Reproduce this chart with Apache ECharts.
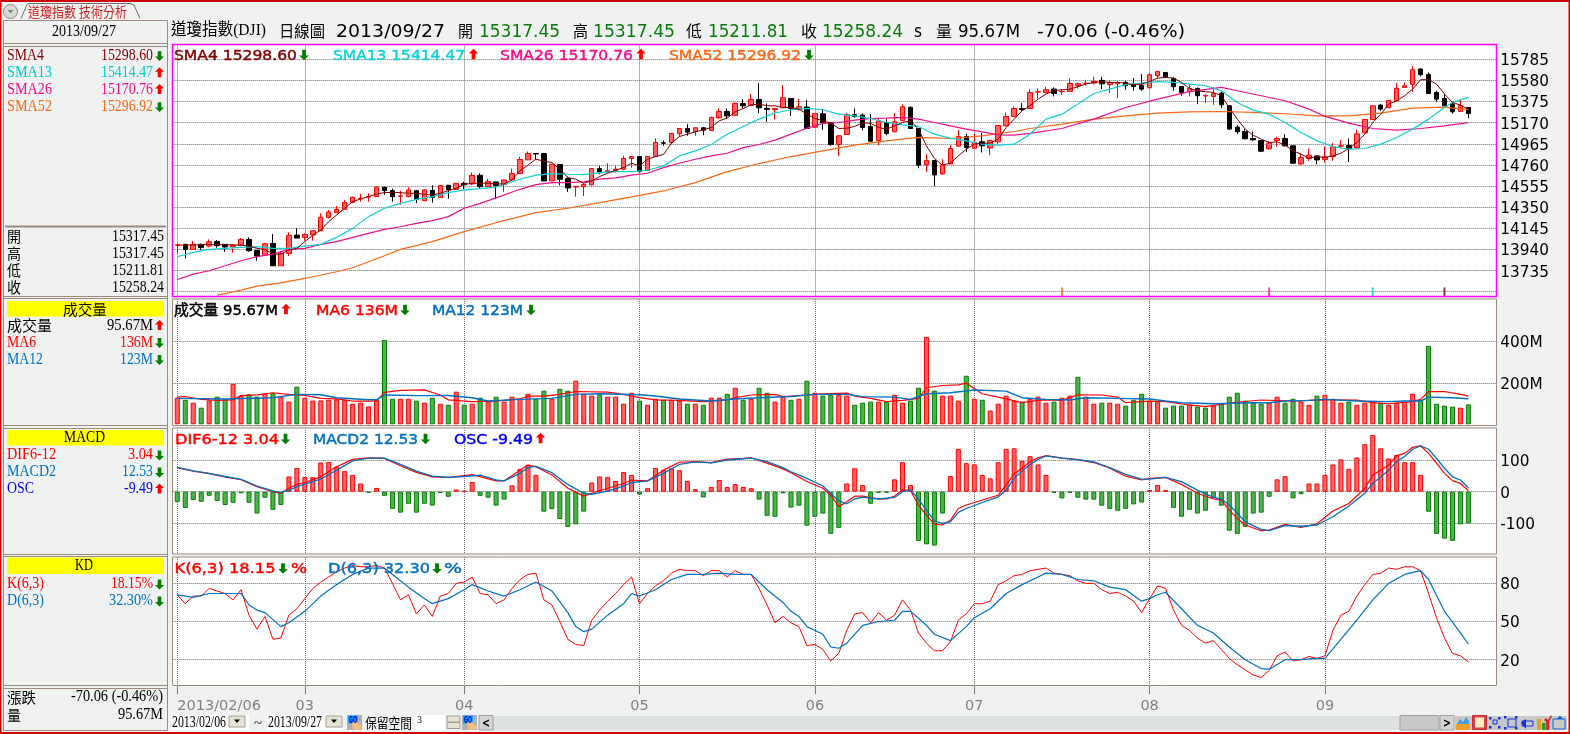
<!DOCTYPE html>
<html><head><meta charset="utf-8">
<style>html,body{margin:0;padding:0;background:#f0f2f2;overflow:hidden}#c{width:1570px;height:734px}</style>
<script src="https://cdn.jsdelivr.net/npm/echarts@6/dist/echarts.min.js"></script>
</head><body><div id="c"></div>
<script>
// ---------- tick labels ----------
const tickIndex=[0,16,36,58,80,100,122,144];
const tickLabels=['2013/02/06','03','04','05','06','07','08','09'];
const priceTicks=[13530,13735,13940,14145,14350,14555,14760,14965,15170,15375,15580,15785];
const priceLabels=[13735,13940,14145,14350,14555,14760,14965,15170,15375,15580,15785];
const volTicks=[200,400];
const macdTicks=[-100,0,100];
const kdTicks=[20,50,80];
const reservedBars=3;
// ---------- candles: open, close, low, high ----------
const candles=[
[13980,13984,13901,13998],[13989,13940,13853,13989],[13940,13989,13934,14021],[13989,13959,13934,13995],[13972,14014,13959,14037],[14018,13976,13956,14031],[13989,13963,13917,13992],[13963,13982,13908,13989],[13979,14037,13972,14050],[14037,13927,13917,14057],
[13930,13875,13830,13930],[13885,13995,13875,14005],[13998,13781,13781,14089],[13781,13901,13781,13917],[13901,14076,13875,14105],[14079,14050,14050,14144],[14057,14086,14024,14095],[14079,14121,14024,14128],[14121,14251,14121,14290],[14251,14303,14241,14322],
[14296,14329,14296,14361],[14329,14394,14329,14420],[14397,14445,14387,14452],[14432,14436,14403,14478],[14449,14452,14403,14484],[14452,14543,14452,14549],[14543,14510,14471,14549],[14510,14452,14403,14530],[14455,14458,14374,14510],[14452,14517,14445,14543],
[14510,14426,14387,14517],[14413,14517,14407,14523],[14513,14445,14394,14562],[14445,14559,14440,14565],[14562,14517,14432,14565],[14523,14581,14520,14585],[14581,14568,14523,14598],[14575,14659,14565,14688],[14659,14549,14530,14679],[14549,14598,14543,14624],
[14594,14559,14432,14598],[14569,14614,14498,14617],[14614,14676,14608,14724],[14676,14812,14669,14838],[14809,14870,14809,14890],[14870,14866,14809,14870],[14870,14604,14604,14870],[14604,14766,14604,14770],[14763,14621,14562,14766],[14627,14536,14498,14646],
[14546,14552,14452,14555],[14549,14569,14458,14582],[14566,14724,14560,14730],[14724,14685,14669,14750],[14692,14702,14685,14776],[14705,14718,14685,14750],[14718,14822,14708,14848],[14822,14841,14734,14845],[14841,14695,14685,14845],[14705,14841,14700,14845],
[14841,14977,14835,15019],[14974,14970,14945,14997],[14977,15065,14960,15068],[15062,15113,15035,15117],[15113,15078,15042,15155],[15084,15120,15042,15123],[15120,15097,15048,15127],[15094,15220,15090,15230],[15217,15278,15205,15308],[15278,15236,15204,15308],
[15240,15356,15236,15366],[15356,15333,15308,15398],[15337,15395,15330,15447],[15395,15314,15262,15553],[15308,15298,15178,15356],[15295,15308,15200,15308],[15314,15411,15310,15534],[15405,15308,15236,15405],[15298,15324,15285,15401],[15321,15113,15110,15392],
[15126,15256,15120,15262],[15256,15172,15100,15301],[15170,14958,14945,15172],[14958,15042,14848,15048],[15055,15246,15050,15262],[15246,15230,15217,15307],[15243,15123,15094,15259],[15133,14990,14984,15252],[14996,15184,14951,15214],[15171,15065,15048,15204],
[15081,15178,15078,15262],[15188,15324,15185,15347],[15318,15113,15110,15328],[15113,14757,14728,15116],[14760,14802,14692,14864],[14802,14663,14555,14802],[14672,14760,14665,14815],[14770,14919,14766,14951],[14942,15035,14938,15100],[15035,14929,14886,15061],
[14922,14977,14918,15061],[14984,14945,14880,15068],[14925,14996,14854,15000],[14984,15142,14961,15146],[15139,15230,15135,15269],[15230,15307,15226,15327],[15307,15298,15282,15359],[15307,15463,15305,15495],[15466,15470,15405,15502],[15463,15489,15455,15518],
[15495,15453,15424,15512],[15470,15473,15440,15495],[15473,15550,15470,15599],[15528,15547,15502,15560],[15550,15553,15528,15586],[15554,15570,15541,15615],[15580,15547,15495,15615],[15538,15560,15457,15576],[15547,15560,15408,15570],[15560,15528,15489,15576],
[15541,15521,15479,15602],[15534,15495,15479,15641],[15508,15635,15505,15650],[15625,15667,15599,15670],[15657,15612,15600,15660],[15599,15518,15479,15609],[15521,15463,15431,15525],[15473,15502,15424,15544],[15502,15431,15350,15512],[15428,15434,15360,15447],
[15424,15450,15343,15512],[15456,15343,15311,15470],[15333,15107,15100,15340],[15126,15081,15058,15146],[15084,15013,15010,15107],[15016,15003,14993,15084],[14996,14893,14886,15000],[14916,14971,14906,14993],[14996,15016,14938,15032],[15016,14945,14942,15058],
[14945,14776,14770,14948],[14770,14831,14757,14873],[14821,14854,14799,14919],[14847,14808,14766,14850],[14812,14838,14783,14938],[14841,14935,14799,14971],[14942,14945,14919,15000],[14948,14919,14789,15016],[14925,15061,14922,15100],[15071,15201,15065,15205],
[15201,15333,15198,15337],[15340,15301,15285,15350],[15314,15385,15310,15390],[15382,15502,15380,15554],[15512,15528,15508,15560],[15541,15683,15470,15716],[15690,15635,15619,15700],[15638,15453,15450,15657],[15463,15398,15372,15479],[15405,15333,15330,15447],
[15350,15275,15256,15372],[15279,15337,15272,15392],[15317.45,15258.24,15211.81,15317.45]];
// ---------- moving averages: [bar, value] ----------
const sma4=[[0,13982],[2,13982],[4,13989],[6,13985],[8,13982],[9,13972],[10,13950],[11,13940],[12,13895],[13,13895],[14,13934],[15,13950],[16,14015],[17,14079],[18,14128],[19,14209],[20,14274],[21,14339],[22,14403],[23,14429],[24,14452],[25,14478],[26,14491],[27,14494],[28,14491],[29,14484],[30,14484],[31,14475],[32,14468],[33,14484],[34,14510],[35,14533],[36,14572],[37,14582],[38,14582],[39,14582],[40,14575],[41,14575],[42,14614],[43,14702],[44,14757],[45,14815],[46,14796],[47,14783],[48,14718],[49,14637],[50,14621],[51,14582],[52,14604],[53,14647],[54,14679],[55,14708],[56,14734],[57,14776],[58,14750],[59,14815],[60,14841],[61,14860],[62,14971],[63,15035],[64,15058],[65,15081],[66,15100],[67,15123],[68,15188],[69,15214],[70,15275],[71,15307],[72,15343],[73,15350],[74,15333],[75,15333],[76,15317],[77,15317],[78,15301],[79,15252],[80,15210],[81,15188],[82,15165],[83,15113],[84,15116],[85,15133],[86,15171],[87,15162],[88,15123],[89,15107],[90,15139],[91,15171],[92,15188],[93,15107],[94,14945],[95,14822],[96,14757],[97,14776],[98,14847],[99,14912],[100,14961],[101,14971],[102,14971],[103,15009],[104,15123],[105,15204],[106,15285],[107,15333],[108,15398],[109,15447],[110,15479],[111,15489],[112,15495],[113,15518],[114,15544],[115,15560],[116,15567],[117,15560],[118,15560],[119,15551],[120,15538],[121,15544],[122,15570],[123,15602],[124,15609],[125,15602],[126,15560],[127,15502],[128,15479],[129,15470],[130,15463],[131,15431],[132,15317],[133,15204],[134,15107],[135,15048],[136,15009],[137,14977],[138,14984],[139,14951],[140,14896],[141,14864],[142,14825],[143,14841],[144,14831],[145,14847],[146,14873],[147,14919],[148,14977],[149,15058],[150,15171],[151,15252],[152,15350],[153,15382],[154,15431],[155,15495],[156,15586],[157,15586],[158,15544],[159,15447],[160,15366],[161,15340],[162,15298.6]];
const sma13=[[0,13869],[2,13911],[4,13940],[6,13950],[8,13959],[10,13966],[12,13950],[14,13950],[16,13972],[18,13989],[20,14057],[22,14144],[24,14258],[26,14339],[28,14387],[30,14426],[32,14452],[34,14491],[36,14517],[38,14530],[40,14545],[43,14621],[45,14660],[47,14676],[49,14669],[51,14666],[53,14685],[55,14695],[57,14695],[59,14708],[61,14750],[63,14847],[65,14896],[67,14958],[69,15058],[71,15133],[73,15204],[75,15262],[77,15295],[79,15308],[81,15295],[83,15252],[85,15236],[87,15210],[89,15171],[91,15149],[93,15133],[95,15058],[97,15019],[99,14993],[101,14961],[103,14951],[105,14961],[107,15058],[109,15204],[111,15252],[113,15350],[115,15453],[117,15495],[119,15538],[121,15554],[123,15567],[125,15560],[127,15544],[129,15528],[131,15479],[133,15366],[135,15291],[137,15252],[139,15171],[141,15074],[143,14993],[145,14938],[147,14912],[149,14919],[151,14961],[153,15026],[155,15107],[157,15204],[159,15317],[160,15366],[162,15414.47]];
const sma26=[[0,13648],[2,13700],[4,13733],[6,13781],[8,13830],[10,13869],[12,13895],[14,13940],[16,13950],[18,13989],[20,14015],[22,14057],[24,14096],[26,14134],[28,14160],[30,14193],[32,14219],[34,14258],[36,14339],[38,14387],[40,14440],[43,14523],[45,14569],[47,14588],[49,14588],[51,14595],[53,14621],[55,14634],[57,14660],[59,14679],[61,14734],[63,14776],[65,14815],[67,14847],[69,14873],[71,14928],[73,14958],[75,15000],[77,15058],[79,15116],[81,15162],[83,15171],[85,15194],[87,15210],[89,15214],[91,15220],[93,15204],[95,15171],[97,15139],[99,15107],[101,15081],[103,15052],[105,15048],[107,15065],[111,15113],[115,15204],[119,15317],[123,15398],[127,15470],[131,15512],[133,15479],[136,15431],[139,15382],[142,15301],[144,15230],[147,15165],[150,15113],[153,15097],[156,15113],[159,15139],[162,15170.76]];
const sma52=[[5,13496],[8,13545],[10,13584],[13,13616],[16,13658],[20,13723],[22,13762],[24,13820],[26,13878],[28,13940],[32,14015],[36,14112],[40,14199],[45,14297],[49,14339],[53,14394],[57,14449],[61,14507],[65,14588],[69,14695],[73,14773],[77,14841],[81,14896],[85,14951],[89,14993],[93,15026],[97,15016],[101,15042],[105,15084],[107,15113],[111,15155],[115,15204],[119,15236],[123,15262],[127,15275],[131,15278],[135,15269],[139,15256],[143,15236],[147,15236],[151,15262],[155,15311],[159,15320],[162,15296.92]];
const periodBars=[111,137,150,159];
// ---------- volume (millions) and its direction ----------
const volume=[128,118,104,80,115,133,120,195,138,144,133,147,150,133,109,181,128,114,115,118,120,118,99,104,86,118,406,123,123,123,114,104,128,99,94,157,94,99,128,109,133,109,133,123,147,123,162,123,171,162,210,147,138,142,133,133,99,152,114,94,123,118,118,114,99,99,94,128,128,147,176,118,123,176,152,109,133,118,123,210,152,138,142,142,138,94,104,109,109,109,142,104,114,176,421,162,138,138,114,234,123,118,66,99,138,114,109,123,133,104,109,128,138,229,133,99,104,104,99,90,118,147,114,109,80,90,90,94,85,80,90,99,133,152,114,104,99,104,133,104,123,109,94,138,142,123,104,109,94,104,109,104,94,104,109,147,118,378,99,90,85,80,95.67];
const volDir='RGRGRGGRRGGRGRRGRRRRRRRRRRGGRRGRGRGRGRGRGRRRRGGRGGRRRGRRRRGRRGRRGRGRRGRGRGGRRGRGRGGRRGGGRGRRGGRGRRRGRGRRRRGRRRGRRGRRGRRGGGRRGGGRGGRGGGGGGRRGGRRGRRRGRRRGRRRRGGGGGRG';
const ma6=[[0,131],[1,134],[3,120],[5,115],[7,118],[8,138],[10,142],[11,147],[12,152],[14,144],[16,139],[18,125],[20,122],[22,112],[25,112],[26,154],[28,163],[31,166],[33,141],[34,118],[37,109],[40,112],[41,115],[43,122],[44,136],[46,136],[48,144],[50,158],[54,155],[56,144],[58,128],[60,118],[63,115],[66,109],[69,118],[70,128],[72,141],[75,144],[76,133],[79,141],[81,147],[84,150],[85,136],[87,125],[89,109],[91,115],[93,125],[94,176],[96,187],[98,190],[99,198],[101,147],[104,122],[106,104],[108,115],[109,118],[111,115],[113,142],[116,141],[118,131],[119,104],[122,112],[124,109],[127,93],[129,85],[131,96],[133,106],[136,117],[140,112],[142,115],[144,118],[148,117],[150,104],[152,99],[155,109],[156,120],[157,157],[159,158],[161,144],[162,136]];
const ma12=[[0,125],[6,122],[12,128],[15,144],[18,142],[20,128],[24,118],[25,118],[26,141],[30,138],[34,139],[37,128],[39,112],[43,120],[47,125],[50,144],[53,147],[58,142],[60,136],[63,122],[67,112],[70,122],[73,128],[77,134],[80,144],[84,144],[86,133],[90,131],[92,120],[94,147],[97,152],[100,165],[104,160],[106,128],[108,122],[109,120],[112,117],[114,128],[118,125],[122,122],[124,112],[126,104],[130,99],[135,104],[137,104],[139,112],[142,115],[144,120],[148,112],[152,109],[154,112],[156,112],[157,131],[160,128],[162,123]];
// ---------- MACD ----------
const osc=[-32,-51,-26,-32,-13,-29,-42,-35,-5,-35,-69,-19,-57,-42,48,75,46,46,92,94,79,65,53,26,-3,12,-13,-54,-66,-38,-66,-38,-44,-4,-16,7,3,31,-13,-19,-44,-25,20,72,85,53,-63,-55,-86,-111,-103,-63,29,48,46,34,62,53,-9,11,75,69,74,68,34,8,-18,15,37,15,24,15,11,-25,-76,-79,-5,-50,-44,-107,-79,-69,-133,-114,26,74,21,-38,-3,-3,39,93,21,-155,-166,-170,-69,49,135,90,86,53,42,93,135,137,97,112,86,53,-3,-21,-3,-19,-25,-25,-44,-54,-60,-54,-40,-34,5,21,5,-51,-79,-57,-69,-60,-21,-44,-123,-133,-111,-69,-66,-16,39,49,-21,-8,26,26,53,86,102,72,108,150,179,137,105,116,93,93,53,-63,-133,-148,-155,-103,-100];
const dif=[[0,76],[2,65],[4,57],[6,47],[8,38],[10,16],[12,0],[13,-5],[14,11],[15,23],[16,29],[18,47],[20,79],[22,102],[24,107],[26,105],[28,82],[30,61],[32,47],[34,45],[36,51],[37,54],[40,34],[41,34],[43,68],[44,84],[45,79],[47,53],[49,11],[51,-14],[52,-5],[54,11],[56,26],[57,37],[59,34],[61,68],[63,93],[65,95],[67,92],[69,103],[71,105],[72,107],[74,90],[76,72],[77,60],[79,32],[81,11],[82,-11],[83,-47],[84,-32],[85,-14],[86,-14],[88,-23],[89,-23],[90,-14],[91,6],[92,4],[93,-42],[94,-74],[95,-102],[96,-105],[97,-90],[98,-53],[99,-42],[101,-26],[103,-11],[104,21],[105,56],[106,74],[107,95],[108,107],[109,114],[111,106],[113,101],[115,92],[117,74],[119,49],[121,37],[122,42],[124,45],[126,23],[128,-5],[130,-23],[131,-26],[132,-58],[133,-84],[134,-105],[136,-123],[137,-121],[139,-103],[141,-113],[143,-101],[145,-61],[147,-37],[149,11],[150,53],[152,84],[153,114],[154,121],[155,140],[156,145],[157,121],[158,90],[159,58],[160,35],[161,26],[162,3.04]];
const macd2=[[0,77],[2,66],[4,58],[6,48],[8,39],[10,18],[12,3],[13,-3],[14,4],[15,16],[16,24],[18,40],[20,68],[22,97],[24,106],[26,106],[28,86],[30,65],[32,49],[34,45],[36,48],[38,52],[40,37],[41,34],[43,58],[44,76],[45,80],[47,60],[49,23],[51,-5],[52,-8],[54,2],[56,18],[57,29],[59,34],[61,58],[63,86],[65,94],[67,91],[69,100],[71,104],[72,106],[74,95],[76,76],[77,63],[79,42],[81,18],[83,-29],[84,-38],[85,-23],[86,-17],[88,-23],[90,-18],[91,0],[92,5],[93,-23],[94,-59],[95,-92],[96,-100],[97,-95],[98,-65],[99,-53],[101,-34],[103,-16],[104,5],[105,42],[106,65],[107,86],[108,102],[109,113],[111,106],[113,101],[115,94],[117,76],[119,55],[121,40],[122,40],[124,45],[126,32],[128,5],[130,-18],[131,-23],[132,-42],[133,-68],[134,-95],[136,-119],[137,-123],[139,-107],[141,-109],[143,-105],[145,-79],[147,-45],[149,-5],[150,26],[152,68],[153,95],[154,111],[155,134],[156,145],[157,134],[158,105],[159,74],[160,47],[161,37],[162,12.53]];
// ---------- KD ----------
const kLine=[71,64,70,70,76,74,72,67,75,55,44,54,36,37,55,60,68,76,81,85,89,92,94,93,93,94,92,80,67,71,56,63,54,70,72,80,81,85,72,71,64,67,76,83,87,88,67,63,50,36,32,31,51,59,66,72,79,85,64,72,78,82,88,91,90,90,86,90,90,85,90,87,87,76,63,49,54,49,46,31,32,28,19,25,43,56,57,49,57,51,55,67,59,41,33,27,27,34,51,56,64,64,66,79,82,86,87,90,91,92,88,87,86,82,80,80,75,72,73,70,66,57,68,78,76,59,47,43,37,33,35,28,21,16,12,8,6,11.5,23,26,19,20,22.5,21,23,43,55,58,70,79,87,88,92,91,93,93,90,72,53,37,25,23,18.15];
const dLine=[[0,71],[2,69],[4,72],[6,72],[8,72],[9,63],[10,59],[11,57],[13,46],[14,49],[16,58],[18,70],[20,79],[22,87],[24,92],[26,92],[27,87],[29,77],[31,68],[32,64],[34,68],[36,75],[37,79],[39,74],[41,70],[43,75],[45,81],[47,74],[49,57],[50,46],[51,42],[52,44],[54,55],[56,64],[57,72],[58,70],[60,75],[62,83],[64,87],[66,87],[68,88],[70,87],[72,87],[74,75],[76,65],[77,58],[78,54],[79,46],[81,40],[82,30],[83,29],[84,33],[86,47],[88,50],[90,51],[91,58],[92,58],[94,47],[95,40],[97,35],[99,46],[100,53],[102,60],[104,72],[106,79],[108,85],[109,88],[111,87],[113,83],[115,82],[117,77],[119,75],[121,66],[122,68],[123,71],[124,73],[126,60],[128,47],[130,41],[132,30],[134,20],[136,13],[137,12.5],[139,20],[141,20],[143,21],[144,21],[146,36],[148,51],[150,67],[152,80],[154,87],[156,90],[157,83],[159,58],[161,41],[162,32.3]];

// ---------- chart ----------
const barCount=candles.length+reservedBars;
const categories=Array.from({length:barCount},(_,i)=>{const k=tickIndex.indexOf(i);return k>=0?tickLabels[k]:'';});
const onTick=i=>tickIndex.indexOf(i)>=0;
const RED='#FF0000',UPFILL='#FF6262',GRN='#008000',GRNFILL='#50B050',BLUE='#0070C0',BROWN='#9C8B7C',GRID='#6e6e6e';
const plotL=173.3,plotW=1323;
const panels=[{top:44.5,bottom:296.5},{top:299,bottom:425.5},{top:428,bottom:554},{top:557,bottom:685.5}];
const grid=panels.map(p=>({left:plotL,width:plotW,top:p.top,height:p.bottom-p.top,show:true,backgroundColor:'#fff',borderWidth:0,containLabel:false}));
const xAxis=panels.map((p,k)=>({type:'category',gridIndex:k,data:categories,boundaryGap:true,
 axisLine:{show:false},
 axisTick:{show:k===3,alignWithLabel:true,interval:onTick,length:9,lineStyle:{color:'#777'}},
 axisLabel:{show:k===3,interval:onTick,margin:13,color:'#808080',fontFamily:'DejaVu Sans',fontSize:14.5,alignMinLabel:'left',hideOverlap:false},
 splitLine:{show:true,alignWithLabel:true,interval:onTick,lineStyle:{type:'dotted',color:GRID,width:1}}}));
function yA(k,min,max,ticks,labels,fmt){return {type:'value',gridIndex:k,position:'right',min,max,scale:false,
 axisLine:{show:false},axisTick:{show:false,customValues:ticks},
 axisLabel:{show:true,customValues:labels,margin:4,verticalAlign:'top',lineHeight:16,padding:[-6,0,0,0],color:'#000',fontFamily:'DejaVu Sans',fontSize:15.3,formatter:fmt||(v=>String(v))},
 splitLine:{show:true,lineStyle:{type:'dotted',color:GRID,width:1}}};}
const yAxis=[
 yA(0,13483,15928,priceTicks,priceLabels),
 yA(1,-6,604,volTicks,volTicks,v=>v+'M'),
 yA(2,-196.5,201,macdTicks,macdTicks),
 yA(3,-0.3,100.7,kdTicks,kdTicks)];
const ln=(name,data,color,k,w)=>({name,type:'line',data,xAxisIndex:k,yAxisIndex:k,showSymbol:false,symbol:'none',silent:true,clip:false,lineStyle:{color,width:w||1.2},z:5});
const barItem=(v,up)=>({value:v,itemStyle:{color:up?UPFILL:GRNFILL,borderColor:up?RED:GRN,borderWidth:1}});
const periodColors=['#F86818','#F0108C','#00D0D0','#800000'];
const series=[
 {name:'K線',type:'candlestick',xAxisIndex:0,yAxisIndex:0,data:candles,barWidth:5,clip:false,silent:true,itemStyle:{color:UPFILL,color0:'#000',borderColor:RED,borderColor0:'#000',borderWidth:1},z:3},
 ln('SMA52',sma52,'#F86818',0),ln('SMA26',sma26,'#F0108C',0),ln('SMA13',sma13,'#10D0D0',0),ln('SMA4',sma4,'#800000',0,1),
 {name:'marks',type:'scatter',xAxisIndex:0,yAxisIndex:0,silent:true,symbol:'rect',symbolSize:[2,9],data:periodBars.map((b,i)=>({value:[b,13527],itemStyle:{color:periodColors[i]}})),z:4},
 {name:'成交量',type:'bar',xAxisIndex:1,yAxisIndex:1,barWidth:5,silent:true,data:volume.map((v,i)=>barItem(v,volDir[i]==='R')),z:3},
 ln('MA6',ma6,RED,1),ln('MA12',ma12,BLUE,1,1.4),
 {name:'OSC',type:'bar',xAxisIndex:2,yAxisIndex:2,barWidth:5,silent:true,data:osc.map(v=>barItem(v,v>=0)),z:3},
 ln('DIF6-12',dif,RED,2),ln('MACD2',macd2,BLUE,2,1.3),
 ln('K(6,3)',kLine.map((v,i)=>[i,v]),RED,3,1),ln('D(6,3)',dLine,BLUE,3),
];

// ---------- chrome ----------
const g=[];
const cv=document.createElement('canvas').getContext('2d');
const SERIF='"Liberation Serif","Noto Sans CJK TC",serif',SANS='"DejaVu Sans","Noto Sans CJK TC",sans-serif',CJK='"Noto Sans CJK TC","Liberation Serif",serif';
function T(s,x0,x1,yc,size,color,fam,weight,z){fam=fam||SERIF;const semi=weight==='semi';const wt=semi?'normal':(weight||'normal');
 cv.font=wt+' '+size+'px '+fam;const w=cv.measureText(s).width;const k=(x1-x0)/w;
 const dy=fam===SANS?1.5:0;
 const style={text:s,fill:color,font:wt+' '+size+'px '+fam,textAlign:'left',textVerticalAlign:'middle',align:'left',verticalAlign:'middle'};
 if(semi){style.stroke=color;style.lineWidth=.45;}
 g.push({type:'text',x:x0,y:yc+dy,scaleX:k,scaleY:1,silent:true,z:z||10,style});}
function R(x,y,w,h,fill,stroke,z,lw){g.push({type:'rect',silent:true,z:z||1,shape:{x,y,width:w,height:h},style:{fill:fill||'none',stroke:stroke||'none',lineWidth:lw||1}});}
function HL(x0,x1,y,c,lw){g.push({type:'line',silent:true,z:2,shape:{x1:x0,y1:y,x2:x1,y2:y},style:{stroke:c||BROWN,lineWidth:lw||1}});}
function PG(pts,fill,z){g.push({type:'polygon',silent:true,z:z||4,shape:{points:pts},style:{fill}});}
function ARW(x,y,up,k){k=k||1;const c=up?RED:GRN,s=up?-1:1;
 PG([[0,6*s],[5,1*s],[2,1*s],[2,-5*s],[-2,-5*s],[-2,1*s],[-5,1*s]].map(q=>[x+q[0]*k,y+q[1]*k]),c,11);}
// outer red frame
R(0,0,1570,2,'#CC0000');R(0,0,1.5,734,'#CC0000');R(0,732,1570,2,'#CC0000');R(1568.5,0,1.5,734,'#CC0000');
// tab
g.push({type:'circle',silent:true,z:3,shape:{cx:10.5,cy:11.5,r:7},style:{fill:'#d8d8d8',stroke:'#8c8c8c'}});
PG([[7.5,10],[13.5,10],[10.5,13.5]],'#808080',4);
g.push({type:'polyline',silent:true,z:3,shape:{points:[[21,18.5],[27,4.5],[29,3.5],[130,3.5],[134,5],[140,18.5]]},style:{fill:'#f0f2f2',stroke:'#707070'}});
T('道瓊指數 技術分析',28,127,11.5,14,'#D02020',CJK);
// left panel frames
R(3.5,20.5,164,710,'#f0f2f2',BROWN,1);
HL(4,167,43.5);HL(4,167,46.5);HL(5,166,226.5,BROWN,2);HL(4,167,296.5);HL(4,167,298.5);HL(4,167,425.5);HL(4,167,428.5);HL(4,167,554.5);HL(4,167,556.5);HL(4,167,685.5);HL(4,167,688.5);
const LS=16.5;
T('2013/09/27',52,116,31.5,LS,'#000');
const leftRows=[['SMA4','15298.60',55.7,'#800000',false,44],['SMA13','15414.47',72.7,'#00CCCC',true,52],['SMA26','15170.76',89.5,'#F0108C',true,52],['SMA52','15296.92',106.7,'#F86818',false,52]];
leftRows.forEach(r=>{T(r[0],7,r[5],r[2],LS,r[3]);T(r[1],101,153,r[2],LS,r[3]);ARW(159.5,r[2],r[4],.9);});
[['開','15317.45',236.5],['高','15317.45',253.5],['低','15211.81',270.5],['收','15258.24',287.5]].forEach(r=>{T(r[0],7,21,r[2],15,'#000',CJK);T(r[1],112,164,r[2],LS,'#000');});
// yellow heads
R(7,301,157,15.5,'#FFFF00');T('成交量',63,107,309,14.5,'#000',CJK);
R(7,430,157,15.5,'#FFFF00');T('MACD',64,105,437.5,LS,'#000');
R(7,557.5,157,16.5,'#FFFF00');T('KD',75,93,566,LS,'#000');
[['成交量','95.67M',325.5,'#000',true,52,107,153],['MA6','136M',342.5,RED,false,36,120,153],['MA12','123M',359.5,BLUE,false,43,120,153]].forEach(r=>{T(r[0],7,r[5],r[2],r[3]==='#000'?15:LS,r[3],r[3]==='#000'?CJK:SERIF);T(r[1],r[6],r[7],r[2],LS,r[3]);ARW(159.5,r[2],r[4],.9);});
[['DIF6-12','3.04',455,RED,false,56,128],['MACD2','12.53',472,BLUE,false,56,122],['OSC','-9.49',489,'#0000FF',true,34,124]].forEach(r=>{T(r[0],7,r[5],r[2],LS,r[3]);T(r[1],r[6],153,r[2],LS,r[3]);ARW(159.5,r[2],r[4],.9);});
[['K(6,3)','18.15%',584,RED,44,111],['D(6,3)','32.30%',601,BLUE,44,109]].forEach(r=>{T(r[0],7,r[4],r[2],LS,r[3]);T(r[1],r[5],153,r[2],LS,r[3]);ARW(159.5,r[2],false,.9);});
T('漲跌',7,36,697,15,'#000',CJK);T('-70.06 (-0.46%)',71,163,697,LS,'#000');
T('量',7,21,715,15,'#000',CJK);T('95.67M',118,163,715,LS,'#000');
// header row
T('道瓊指數(DJI)',171,266,31,16.5,'#000',SERIF);T('日線圖',279,325,31,16,'#000',CJK);
T('2013/09/27',336,445,31,17,'#000',SANS);
[['開',458,473,'15317.45',479,560],['高',573,588,'15317.45',593,675],['低',686,702,'15211.81',708,788],['收',801,817,'15258.24',822,903]].forEach(r=>{T(r[0],r[1],r[2],31,16,'#000',CJK);T(r[3],r[4],r[5],31,17,'#0A7A0A',SANS);});
T('s',914,922,31,17,'#000',SANS);T('量',936,952,31,16,'#000',CJK);T('95.67M',958,1020,31,17,'#000',SANS);T('-70.06 (-0.46%)',1037,1185,31,17,'#000',SANS);
// in-panel legends
const LB='semi',LF=14.5;
[['SMA4 15298.60',174,297,'#800000',false,304],['SMA13 15414.47',333,465,'#10D0D0',true,473.5],['SMA26 15170.76',500,633,'#F0108C',true,641],['SMA52 15296.92',669,801,'#F86818',false,809]].forEach(r=>{T(r[0],r[1],r[2],54.5,LF,r[3],SANS,LB,12);ARW(r[5],54.5,r[4],.95);});
[['成交量 95.67M',174,278,'#000',true,286],['MA6 136M',316,398,RED,false,405],['MA12 123M',432,523,BLUE,false,531]].forEach(r=>{T(r[0],r[1],r[2],309.5,LF,r[3],SANS,LB,12);ARW(r[5],309.5,r[4],.95);});
[['DIF6-12 3.04',175,279,RED,false,285.5],['MACD2 12.53',313,418,BLUE,false,425.5],['OSC -9.49',454,533,'#0000FF',true,540.5]].forEach(r=>{T(r[0],r[1],r[2],438.5,LF,r[3],SANS,LB,12);ARW(r[5],438.5,r[4],.95);});
T('K(6,3) 18.15',174.5,275.5,568,LF,RED,SANS,LB,12);ARW(283,568,false,.95);T('%',291,307,568,LF,RED,SANS,LB,12);
T('D(6,3) 32.30',328,430,568,LF,BLUE,SANS,LB,12);ARW(437,568,false,.95);T('%',444,462,568,LF,BLUE,SANS,LB,12);
// plot borders
R(172.5,44.5,1324,252,null,'#FF00FF',6,1.5);
R(172.5,299,1324,126.5,null,BROWN,6);R(172.5,428,1324,126,null,BROWN,6);R(172.5,557,1324,128.5,null,BROWN,6);
// bottom toolbar
R(171,715,78,15.5,'#fff');R(267,715,76,15.5,'#fff');R(415,715,30,15.5,'#fff');
T('2013/02/06',172,226,723,LS,'#000');T('2013/09/27',268,322,723,LS,'#000');
function BTN(x,w){R(x,716,w,11,'#e6e2d6','#a09c90',3);}
BTN(229,16);BTN(326,16);
PG([[234,719.5],[240,719.5],[237,723]],'#000');PG([[331,719.5],[337,719.5],[334,723]],'#000');
T('~',254,262,724,14,'#000');T('保留空間',365,412,723,14,'#000',CJK);T('3',417,422,720,11,'#000');
function GO(x){R(x,715,15,15,'#B0B0B8');R(x+1,715.5,10,8,'#10A8FF');T('GO',x+2,x+10,719.5,8,'#0000C0',SANS,'bold',11);PG([[x+5,722],[x+9,721],[x+15,727],[x+13,730],[x+6,730]],'#F4C080',5);}
GO(347);GO(462);
R(447,716,13,6,'#e6e2d6','#a09c90',3);R(447,722.5,13,6,'#e6e2d6','#a09c90',3);
R(493,716,907,14,'#DDE0E0');
R(479,715.5,14,14.5,'#d4d4d4','#a0a0a0',3);T('<',482,490,722,13,'#000',SANS,'bold');
R(1400,715.5,39,14.5,'#c8c8c8','#a0a0a0',3);R(1440,715.5,14,14.5,'#d4d4d4','#a0a0a0',3);T('>',1443,1451,722,13,'#000',SANS,'bold');
R(1455,716,112,14,'#C8C8C8');
R(1456,724,14,6,'#F0A030',null,3);PG([[1457,724],[1460,719],[1463,722],[1466,717],[1469,721],[1469,724]],'#40A0E0',4);
R(1472.5,715.5,14,14,'#E04040','#C03030',3);R(1475,717.5,9,10,'#FBEFC8',null,4);
R(1493,720,4,4,null,'#1030E0',4);R(1508,719,8,8,null,'#1030E0',4);
[[1489,717],[1498,717],[1489,726],[1498,726],[1504,716],[1515,716],[1504,727],[1515,727]].forEach(p=>R(p[0],p[1],2.5,2.5,'#1030E0',null,4));
R(1522,721,11,5,null,'#1030E0',4);PG([[1521,723],[1526,719],[1526,729]],'#1030E0',5);
R(1537,719,4,11,'#E8A020',null,4);R(1542,723,3.5,7,'#20A020',null,4);R(1546,720,3.5,10,'#D03030',null,4);
PG([[1544,720],[1546,718],[1548,720],[1551,715],[1552,716.5],[1548,723]],'#E02020',5);
R(1553,719,12,10,null,'#1060E0',4);PG([[1557,719],[1560,715.5],[1563,719]],'#1060E0',5);

const chart=echarts.init(document.getElementById('c'),null,{renderer:'canvas',width:1570,height:734});
chart.setOption({animation:false,backgroundColor:'#f0f2f2',tooltip:{show:false},legend:{show:false},grid,xAxis,yAxis,series,graphic:{elements:g}});
</script></body></html>
